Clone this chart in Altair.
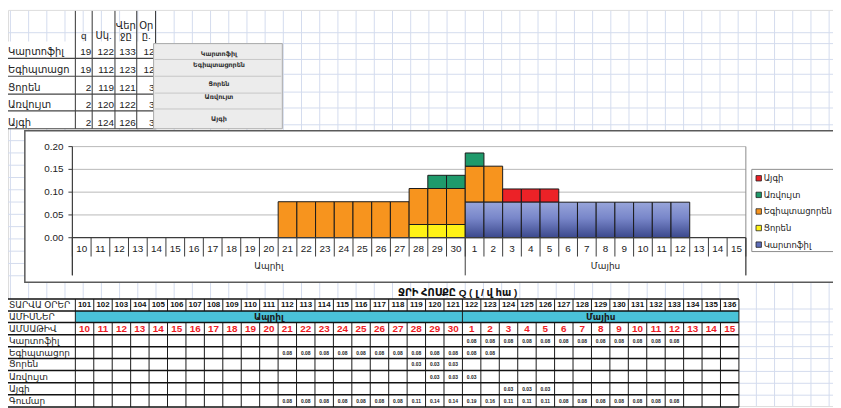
import altair as alt
import pandas as pd

# ---------------- data ----------------
crops = ["Կարտոֆիլ", "Եգիպտացորեն", "Ցորեն", "Առվույտ", "Այգի"]
crop_q = [19, 19, 2, 2, 2]
crop_start = [122, 112, 119, 120, 124]
crop_end = [133, 123, 121, 122, 126]
crop_days = [12, 12, 3, 3, 3]
crop_flow = [0.078, 0.079, 0.029, 0.029, 0.029]
crop_colors = ["#5d6db8", "#F7941E", "#FFF215", "#1F9A6B", "#EC2227"]
stack_order = ["Կարտոֆիլ", "Ցորեն", "Եգիպտացորեն", "Առվույտ", "Այգի"]

year_days = list(range(101, 137))
dates = list(range(10, 31)) + list(range(1, 16))
months = ["Ապրիլ", "Մայիս"]
month_first = [101, 122]
month_last = [121, 136]
y_ticks = [0.0, 0.05, 0.10, 0.15, 0.20]
top_headers = ["q", "Սկ.", "Վեր\nջը", "Օր\nը."]
bottom_headers = ["ՏԱՐՎԱ ՕՐԵՐ", "ԱՄԻՍՆԵՐ", "ԱՄՍԱԹԻՎ"]
sum_label = "Գումար"
title_text = "ՋՐԻ ՀՈՍՔԸ  Q ( լ / վ հա )"

# ---------------- layout helpers ----------------
def R(v):
    return v - 8

FONT = "Liberation Sans, Arial, DejaVu Sans, sans-serif"
ZW = "\u200b"
one = pd.DataFrame({"a": [0]})


def lin(domain, rng):
    return alt.Scale(domain=domain, range=rng, nice=False, zero=False)


def box(x1, y1, x2, y2, **kw):
    return alt.Chart(one).mark_rect(**kw).encode(
        x=alt.value(R(x1)), x2=alt.value(R(x2)), y=alt.value(R(y1)), y2=alt.value(R(y2)))


layers = []

# ---------------- sheet background grid ----------------
gv = pd.DataFrame({"x": [R(286 + 18.37 * k) for k in range(-15, 31)]})
gv = gv[(gv.x >= 0) & (gv.x <= 833)]
layers.append(alt.Chart(gv).mark_rule(color="#d3dcee", strokeWidth=1).encode(
    x=alt.X("x:Q", scale=None), y=alt.value(R(9)), y2=alt.value(R(408))))
grid_rows = [31, 42, 58, 73, 91, 107, 124] + [140 + 12.4 * k for k in range(12)] + \
    [310, 323, 336, 348, 360, 373, 385, 397]
gh = pd.DataFrame({"y": [R(v) for v in grid_rows]})
layers.append(alt.Chart(gh).mark_rule(color="#d3dcee", strokeWidth=1).encode(
    y=alt.Y("y:Q", scale=None), x=alt.value(0), x2=alt.value(833)))

# white covers
layers.append(box(0, 40, 157, 128, fill="white"))
layers.append(box(25, 130, 860, 283, fill="white", stroke="#5a5a5a", strokeWidth=1.5))
layers.append(box(0, 300, 746, 412, fill="white"))

# ---------------- top table ----------------
xTop = lin([0, 1, 2, 3, 4], [R(v) for v in [76, 93, 116, 138, 157]])
yTop = lin([0, 1, 2, 3, 4, 5, 6], [R(v) for v in [9, 40, 57, 75, 93, 110, 128]])

layers.append(alt.Chart(pd.DataFrame({"c": [0, 1, 2, 3, 4]})).mark_rule(color="#333", strokeWidth=1).encode(
    x=alt.X("c:Q", scale=xTop, axis=None), y=alt.value(R(9)), y2=alt.value(R(128))))
layers.append(alt.Chart(pd.DataFrame({"r": [2, 3, 4, 5, 6]})).mark_rule(color="#444", strokeWidth=1.2).encode(
    y=alt.Y("r:Q", scale=yTop, axis=None), x=alt.value(0), x2=alt.value(R(157))))
h1 = [h.split("\n")[0] if "\n" in h else "" for h in top_headers]
h2 = [h.split("\n")[-1] for h in top_headers]
layers.append(alt.Chart(pd.DataFrame({"c": [0.5, 1.5, 2.5, 3.5], "t": h1})).mark_text(
    font=FONT, fontSize=10, baseline="middle", align="center", color="#222").encode(
    x=alt.X("c:Q", scale=xTop, axis=None), y=alt.value(R(24)), text="t:N"))
layers.append(alt.Chart(pd.DataFrame({"c": [0.5, 1.5, 2.5, 3.5], "t": h2})).mark_text(
    font=FONT, fontSize=10, baseline="middle", align="center", color="#222").encode(
    x=alt.X("c:Q", scale=xTop, axis=None), y=alt.value(R(34)), text="t:N"))
layers.append(alt.Chart(pd.DataFrame({"r": [2, 3, 4, 5, 6], "t": crops})).mark_text(
    font=FONT, fontSize=10, baseline="bottom", align="left", dy=-1, limit=68, ellipsis=ZW, color="#222").encode(
    y=alt.Y("r:Q", scale=yTop, axis=None), x=alt.value(0), text="t:N"))
top_cells = []
for i, name in enumerate(crops):
    for c, v in enumerate([crop_q[i], crop_start[i], crop_end[i], crop_days[i]]):
        top_cells.append({"r": i + 2, "c": c + 1, "t": str(v)})
layers.append(alt.Chart(pd.DataFrame(top_cells)).mark_text(
    font=FONT, fontSize=10, baseline="bottom", align="right", dx=-1, dy=-1, color="#222").encode(
    x=alt.X("c:Q", scale=xTop, axis=None), y=alt.Y("r:Q", scale=yTop, axis=None), text="t:N"))

# buttons
layers.append(box(155, 42, 285, 128, fill="#ececec", stroke="#a9a9a9", strokeWidth=1))
yBtn = lin([0, 1, 2, 3, 4, 5], [R(v) for v in [42, 58, 75, 92, 108, 128]])
layers.append(alt.Chart(pd.DataFrame({"i": [1, 2, 3, 4]})).mark_rule(color="#c6c6c6", strokeWidth=1).encode(
    y=alt.Y("i:Q", scale=yBtn, axis=None), x=alt.value(R(156)), x2=alt.value(R(284))))
yBtnL = lin([0, 1, 2, 3, 4], [R(v) for v in [53, 64, 83, 96, 118]])
layers.append(alt.Chart(pd.DataFrame({"i": [0, 1, 2, 3, 4], "t": crops})).mark_text(
    font=FONT, fontSize=6.5, fontWeight="bold", baseline="middle", align="center", color="#333").encode(
    y=alt.Y("i:Q", scale=yBtnL, axis=None), x=alt.value(R(221)), text="t:N"))

# ---------------- chart ----------------
xS = lin([101, 137], [R(73), R(753)])
yS = lin([0, 0.2], [R(238), R(146)])

layers.append(alt.Chart(pd.DataFrame({"v": y_ticks[1:]})).mark_rule(color="#b9b9b9", strokeWidth=1).encode(
    y=alt.Y("v:Q", scale=yS, axis=None), x=alt.value(R(73)), x2=alt.value(R(753))))
layers.append(alt.Chart(one).mark_rule(color="#8a8a8a", strokeWidth=1).encode(
    x=alt.value(R(753)), y=alt.value(R(146)), y2=alt.value(R(276))))

rows = []
for d in year_days:
    cum = 0.0
    for name in stack_order:
        i = crops.index(name)
        if crop_start[i] <= d <= crop_end[i]:
            rows.append(dict(crop=name, d0=d, d1=d + 1, y0=cum, y1=cum + crop_flow[i], col=crop_colors[i]))
            cum += crop_flow[i]
bars = pd.DataFrame(rows)
blue = bars[bars.crop == crops[0]]
other = bars[bars.crop != crops[0]]

layers.append(alt.Chart(other).mark_rect(stroke="#1a1a1a", strokeWidth=1).encode(
    x=alt.X("d0:Q", scale=xS, axis=None), x2="d1:Q",
    y=alt.Y("y0:Q", scale=yS, axis=None), y2="y1:Q",
    fill=alt.Fill("col:N", scale=None)))
grad = alt.LinearGradient(gradient="linear", stops=[
    alt.GradientStop(color="#98a5da", offset=0),
    alt.GradientStop(color="#7886c9", offset=0.45),
    alt.GradientStop(color="#3b488c", offset=1)], x1=0, x2=0, y1=0, y2=1)
layers.append(alt.Chart(blue).mark_rect(fill=grad, stroke="#1a1a1a", strokeWidth=1).encode(
    x=alt.X("d0:Q", scale=xS, axis=None), x2="d1:Q",
    y=alt.Y("y0:Q", scale=yS, axis=None), y2="y1:Q"))

# axes
layers.append(alt.Chart(pd.DataFrame({"v": [0.0]})).mark_rule(color="#3c3c3c", strokeWidth=1.2).encode(
    y=alt.Y("v:Q", scale=yS, axis=None), x=alt.value(R(73)), x2=alt.value(R(753))))
layers.append(alt.Chart(one).mark_rule(color="#3c3c3c", strokeWidth=1.2).encode(
    x=alt.value(R(73)), y=alt.value(R(146)), y2=alt.value(R(276))))
layers.append(alt.Chart(pd.DataFrame({"v": y_ticks})).mark_rule(color="#3c3c3c", strokeWidth=1).encode(
    y=alt.Y("v:Q", scale=yS, axis=None), x=alt.value(R(69)), x2=alt.value(R(73))))
layers.append(alt.Chart(pd.DataFrame({"v": y_ticks})).mark_text(
    font=FONT, fontSize=10, align="right", baseline="middle", color="#222").encode(
    y=alt.Y("v:Q", scale=yS, axis=None), x=alt.value(R(64)), text=alt.Text("v:Q", format=".2f")))
layers.append(alt.Chart(pd.DataFrame({"d": year_days + [137]})).mark_rule(color="#3c3c3c", strokeWidth=1).encode(
    x=alt.X("d:Q", scale=xS, axis=None), y=alt.value(R(238)), y2=alt.value(R(257))))
layers.append(alt.Chart(pd.DataFrame({"d": [d + 0.5 for d in year_days], "t": dates})).mark_text(
    font=FONT, fontSize=10, align="center", baseline="middle", color="#222").encode(
    x=alt.X("d:Q", scale=xS, axis=None), y=alt.value(R(249)), text="t:N"))
layers.append(alt.Chart(pd.DataFrame({"d": month_first + [month_last[-1] + 1]})).mark_rule(color="#3c3c3c", strokeWidth=1).encode(
    x=alt.X("d:Q", scale=xS, axis=None), y=alt.value(R(238)), y2=alt.value(R(276))))
layers.append(alt.Chart(pd.DataFrame({"d": [(a + b + 1) / 2 for a, b in zip(month_first, month_last)], "t": months})).mark_text(
    font=FONT, fontSize=9, align="center", baseline="middle", color="#222").encode(
    x=alt.X("d:Q", scale=xS, axis=None), y=alt.value(R(267)), text="t:N"))

# legend
layers.append(box(759, 169, 860, 252, fill="white", stroke="#8c8c8c", strokeWidth=1))
leg_order = list(reversed(stack_order))
leg = pd.DataFrame({"i": list(range(5)), "t": leg_order,
                    "col": [crop_colors[crops.index(n)] for n in leg_order]})
yL = lin([0, 4], [R(178), R(245)])
layers.append(alt.Chart(leg).mark_square(size=30, stroke="#222", strokeWidth=0.8, opacity=1).encode(
    y=alt.Y("i:Q", scale=yL, axis=None), x=alt.value(R(766)), fill=alt.Fill("col:N", scale=None)))
layers.append(alt.Chart(leg).mark_text(font=FONT, fontSize=8.5, align="left", baseline="middle", color="#222").encode(
    y=alt.Y("i:Q", scale=yL, axis=None), x=alt.value(R(771)), text="t:N"))

# ---------------- bottom table ----------------
layers.append(alt.Chart(one).mark_text(font=FONT, fontSize=10, fontWeight="bold", align="center", baseline="middle", color="#111").encode(
    x=alt.value(R(462)), y=alt.value(R(294)), text=alt.value(title_text)))

xT = lin([101, 137], [R(76), R(746)])
yT = lin(list(range(10)), [R(v) for v in [300, 312, 323.5, 336, 348, 360, 372, 384.5, 396.5, 409]])

mon = pd.DataFrame({"a": month_first, "b": [m + 1 for m in month_last], "t": months,
                    "r0": [1, 1], "r1": [2, 2], "rc": [1.5, 1.5]})
layers.append(alt.Chart(mon).mark_rect(fill="#4ac2d8").encode(
    x=alt.X("a:Q", scale=xT, axis=None), x2="b:Q", y=alt.Y("r0:Q", scale=yT, axis=None), y2="r1:Q"))

vl = []
for d in year_days + [137]:
    vl.append({"d": d, "r0": 0, "r1": 1})
    vl.append({"d": d, "r0": 2, "r1": 9})
for d in month_first + [month_last[-1] + 1]:
    vl.append({"d": d, "r0": 1, "r1": 2})
layers.append(alt.Chart(pd.DataFrame(vl)).mark_rule(color="#1a1a1a", strokeWidth=1).encode(
    x=alt.X("d:Q", scale=xT, axis=None), y=alt.Y("r0:Q", scale=yT, axis=None), y2="r1:Q"))
layers.append(alt.Chart(pd.DataFrame({"r": list(range(10))})).mark_rule(color="#111", strokeWidth=1.5).encode(
    y=alt.Y("r:Q", scale=yT, axis=None), x=alt.value(0), x2=alt.value(R(746))))

# day-of-year numbers
layers.append(alt.Chart(pd.DataFrame({"d": [d + 0.5 for d in year_days], "t": year_days, "r": 0.5})).mark_text(
    font=FONT, fontSize=8, fontWeight="bold", align="center", baseline="middle", color="#111").encode(
    x=alt.X("d:Q", scale=xT, axis=None), y=alt.Y("r:Q", scale=yT, axis=None), text="t:N"))
# months
layers.append(alt.Chart(mon.assign(m=[(a + b) / 2 for a, b in zip(mon.a, mon.b)])).mark_text(
    font=FONT, fontSize=9, fontWeight="bold", align="center", baseline="middle", color="#1a1a1a").encode(
    x=alt.X("m:Q", scale=xT, axis=None), y=alt.Y("rc:Q", scale=yT, axis=None), text="t:N"))
# dates
layers.append(alt.Chart(pd.DataFrame({"d": [d + 0.5 for d in year_days], "t": dates, "r": 2.5})).mark_text(
    font=FONT, fontSize=10, fontWeight="bold", align="center", baseline="middle", color="#ee1c25").encode(
    x=alt.X("d:Q", scale=xT, axis=None), y=alt.Y("r:Q", scale=yT, axis=None), text="t:N"))
# row labels
row_labels = bottom_headers + crops + [sum_label]
layers.append(alt.Chart(pd.DataFrame({"r": [i + 0.5 for i in range(9)], "t": row_labels})).mark_text(
    font=FONT, fontSize=9, align="left", baseline="middle", limit=67, ellipsis=ZW, color="#1a1a1a").encode(
    x=alt.value(1), y=alt.Y("r:Q", scale=yT, axis=None), text="t:N"))
# values
cells = []
totals = {}
for i, name in enumerate(crops):
    for d in range(crop_start[i], crop_end[i] + 1):
        cells.append({"d": d + 0.5, "r": 3.5 + i, "t": f"{crop_flow[i]:.2f}"})
        totals[d] = totals.get(d, 0.0) + crop_flow[i]
for d, v in totals.items():
    cells.append({"d": d + 0.5, "r": 8.5, "t": f"{v:.2f}"})
layers.append(alt.Chart(pd.DataFrame(cells)).mark_text(
    font=FONT, fontSize=5, fontWeight="bold", align="center", baseline="middle", color="#222").encode(
    x=alt.X("d:Q", scale=xT, axis=None), y=alt.Y("r:Q", scale=yT, axis=None), text="t:N"))

chart = alt.layer(*layers).resolve_scale(x="independent", y="independent").properties(
    width=833, height=400, padding=0, autosize=alt.AutoSizeParams(type="none")
).configure_view(stroke=None).configure(background="white")

chart.save("out.html", embed_options={"renderer": "svg", "actions": False})
